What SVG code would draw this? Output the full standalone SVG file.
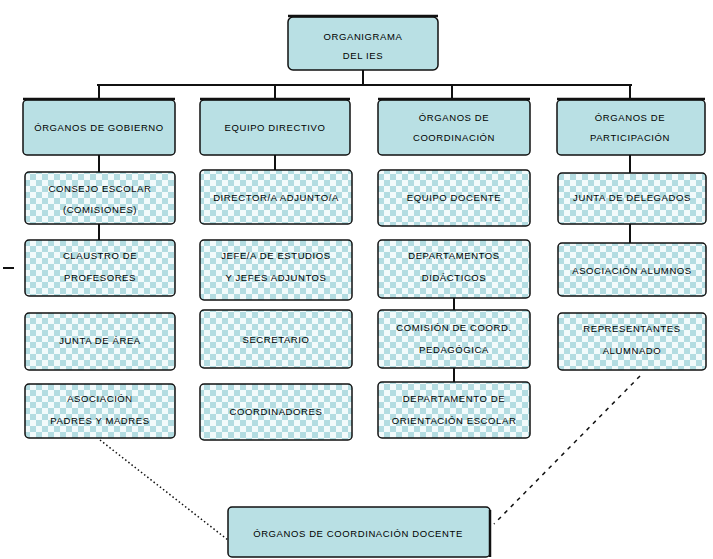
<svg xmlns="http://www.w3.org/2000/svg" width="713" height="559" viewBox="0 0 713 559">
<style>
.solid{fill:#b9e0e4;stroke:#111;stroke-width:1.5}
.check{fill:url(#chk);stroke:#111;stroke-width:1.5}
.top{stroke:#111;stroke-width:2.5;fill:none}
.ln{stroke:#111;stroke-width:2;fill:none}
.t{font-family:"Liberation Sans",Arial,sans-serif;font-size:9.5px;fill:#000;text-anchor:middle;letter-spacing:0.6px}
</style>
<defs>
<pattern id="chk" width="12" height="12" patternUnits="userSpaceOnUse">
<rect width="12" height="12" fill="#f2fafb"/>
<rect width="6" height="6" fill="#b3dce1"/>
<rect x="6" y="6" width="6" height="6" fill="#b3dce1"/>
</pattern>
</defs>
<g id="connectors">
<path class="ln" d="M363 70V85M97 85H632M99 85V100M275 85V100M452 85V100M630 85V100"/>
<path class="ln" d="M99 155V172M99 224V240M275 155V170M454 298V310M454 368V382M630 155V173M630 224V243"/>
<path class="ln" d="M3 268H14"/>
<path d="M100 440L228 540" stroke="#111" stroke-width="1.5" stroke-dasharray="1.5 2.5" fill="none"/>
<path d="M640 376L494 524" stroke="#111" stroke-width="1.5" stroke-dasharray="4 5" fill="none"/>
</g>
<g id="n-top"><rect class="solid" x="288" y="17" width="150" height="53" rx="5"/><path class="top" d="M288 16H438"/><text class="t" x="363" y="40">ORGANIGRAMA</text><text class="t" x="363" y="59">DEL IES</text></g>
<g id="n-h1"><rect class="solid" x="23" y="100" width="152" height="55" rx="4"/><path class="top" d="M23 99H175"/><text class="t" x="99" y="131">ÓRGANOS DE GOBIERNO</text></g>
<g id="n-h2"><rect class="solid" x="200" y="100" width="150" height="55" rx="4"/><path class="top" d="M200 99H350"/><text class="t" x="275" y="131">EQUIPO DIRECTIVO</text></g>
<g id="n-h3"><rect class="solid" x="378" y="100" width="152" height="55" rx="4"/><path class="top" d="M378 99H530"/><text class="t" x="454" y="121">ÓRGANOS DE</text><text class="t" x="454" y="141">COORDINACIÓN</text></g>
<g id="n-h4"><rect class="solid" x="557" y="100" width="148" height="55" rx="4"/><path class="top" d="M557 99H705"/><text class="t" x="630" y="121">ÓRGANOS DE</text><text class="t" x="630" y="141">PARTICIPACIÓN</text></g>
<g id="n-c1r1"><rect class="check" x="25" y="172" width="150" height="52" rx="4"/><text class="t" x="100" y="192">CONSEJO ESCOLAR</text><text class="t" x="100" y="213">(COMISIONES)</text></g>
<g id="n-c1r2"><rect class="check" x="25" y="240" width="150" height="56" rx="4"/><text class="t" x="100" y="259">CLAUSTRO DE</text><text class="t" x="100" y="281">PROFESORES</text></g>
<g id="n-c1r3"><rect class="check" x="25" y="313" width="150" height="57" rx="4"/><text class="t" x="100" y="344">JUNTA DE ÁREA</text></g>
<g id="n-c1r4"><rect class="check" x="25" y="384" width="150" height="54" rx="4"/><text class="t" x="100" y="402">ASOCIACIÓN</text><text class="t" x="100" y="424">PADRES Y MADRES</text></g>
<g id="n-c2r1"><rect class="check" x="200" y="170" width="152" height="54" rx="4"/><text class="t" x="276" y="201">DIRECTOR/A ADJUNTO/A</text></g>
<g id="n-c2r2"><rect class="check" x="200" y="240" width="152" height="60" rx="4"/><text class="t" x="276" y="259">JEFE/A DE ESTUDIOS</text><text class="t" x="276" y="281">Y JEFES ADJUNTOS</text></g>
<g id="n-c2r3"><rect class="check" x="200" y="310" width="152" height="58" rx="4"/><text class="t" x="276" y="343">SECRETARIO</text></g>
<g id="n-c2r4"><rect class="check" x="200" y="384" width="152" height="56" rx="4"/><text class="t" x="276" y="415">COORDINADORES</text></g>
<g id="n-c3r1"><rect class="check" x="378" y="170" width="152" height="56" rx="4"/><text class="t" x="454" y="201">EQUIPO DOCENTE</text></g>
<g id="n-c3r2"><rect class="check" x="378" y="240" width="152" height="58" rx="4"/><text class="t" x="454" y="259">DEPARTAMENTOS</text><text class="t" x="454" y="281">DIDÁCTICOS</text></g>
<g id="n-c3r3"><rect class="check" x="378" y="310" width="152" height="58" rx="4"/><text class="t" x="454" y="331">COMISIÓN DE COORD.</text><text class="t" x="454" y="353">PEDAGÓGICA</text></g>
<g id="n-c3r4"><rect class="check" x="378" y="382" width="152" height="56" rx="4"/><text class="t" x="454" y="402">DEPARTAMENTO DE</text><text class="t" x="454" y="424">ORIENTACIÓN ESCOLAR</text></g>
<g id="n-c4r1"><rect class="check" x="558" y="173" width="148" height="51" rx="4"/><text class="t" x="632" y="201">JUNTA DE DELEGADOS</text></g>
<g id="n-c4r2"><rect class="check" x="558" y="243" width="148" height="53" rx="4"/><text class="t" x="632" y="274">ASOCIACIÓN ALUMNOS</text></g>
<g id="n-c4r3"><rect class="check" x="558" y="313" width="148" height="57" rx="4"/><text class="t" x="632" y="332">REPRESENTANTES</text><text class="t" x="632" y="354">ALUMNADO</text></g>
<g id="n-bottom"><rect class="solid" x="228" y="507" width="262" height="50" rx="4"/><path class="top" d="M490 510V557"/><text class="t" x="358" y="537">ÓRGANOS DE COORDINACIÓN DOCENTE</text></g>
</svg>
